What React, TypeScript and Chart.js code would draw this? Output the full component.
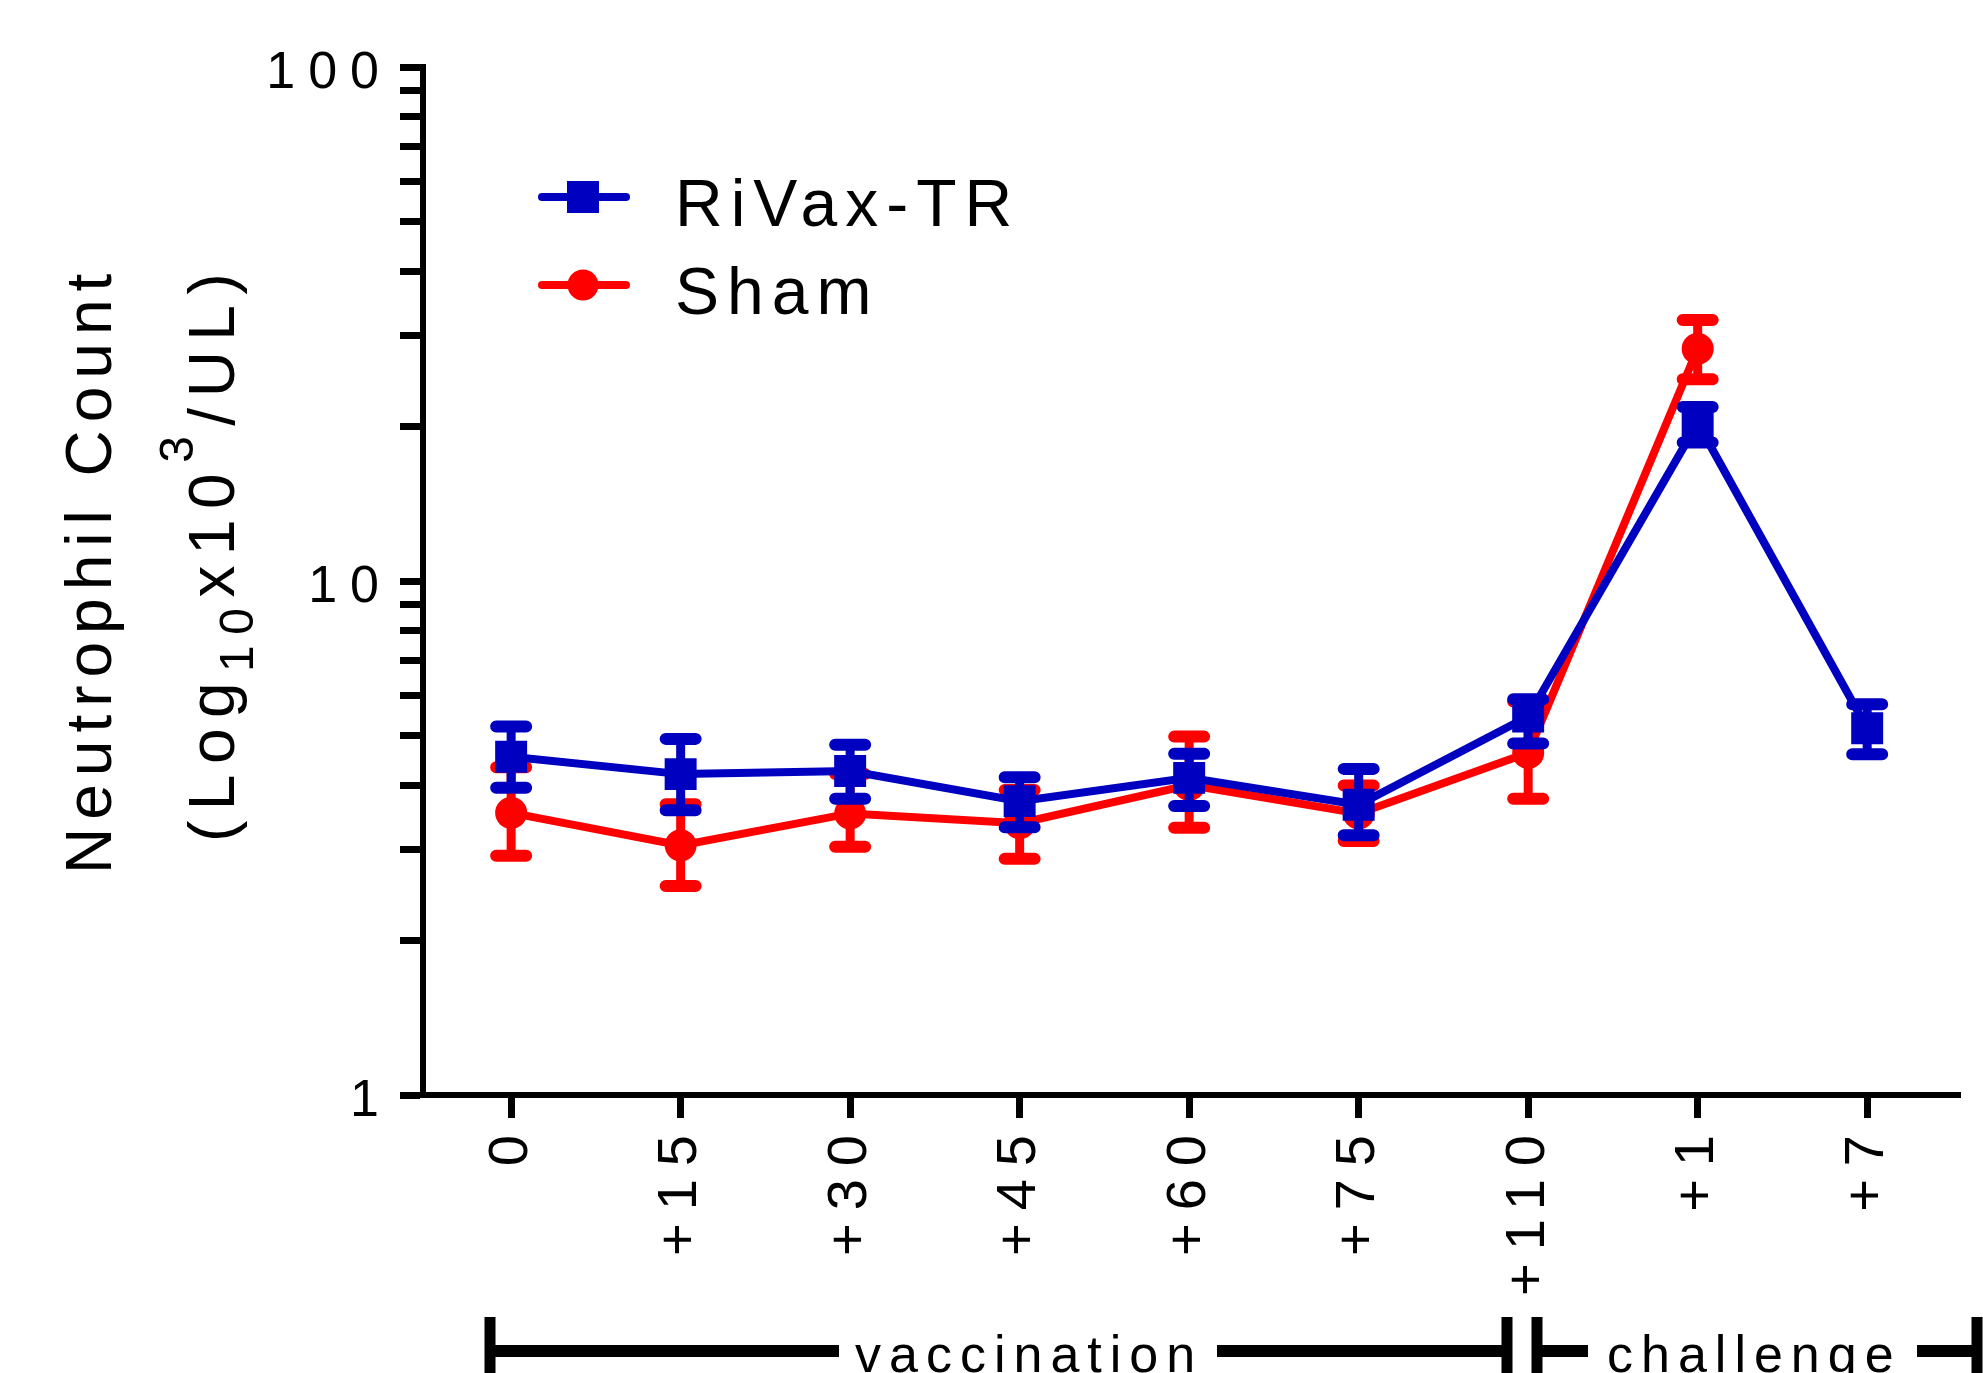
import React, { useEffect, useRef } from 'react';
import { Chart, registerables } from 'chart.js';

Chart.register(...registerables);

// ---------------- data ----------------
const timepoints = ['0', '+15', '+30', '+45', '+60', '+75', '+110', '+1', '+7'];

const seriesNames = ['RiVax-TR', 'Sham'];

const rivaxMean = [4.55, 4.21, 4.27, 3.73, 4.14, 3.67, 5.45, 20.3, 5.17];
const rivaxUpper = [5.21, 4.93, 4.8, 4.15, 4.61, 4.31, 5.89, 21.8, 5.76];
const rivaxLower = [3.96, 3.58, 3.77, 3.32, 3.65, 3.2, 4.83, 18.6, 4.6];

const shamMean = [3.54, 3.06, 3.53, 3.38, 4.01, 3.53, 4.63, 28.3, null];
const shamUpper = [4.34, 3.68, 4.21, 3.92, 4.98, 4.0, 5.83, 32.2, null];
const shamLower = [2.92, 2.55, 3.04, 2.88, 3.31, 3.12, 3.77, 24.7, null];

const yTickValues = [1, 2, 3, 4, 5, 6, 7, 8, 9, 10, 20, 30, 40, 50, 60, 70, 80, 90, 100];
const yTickLabels: Record<number, string> = { 1: '1', 10: '10', 100: '100' };

const phaseLabels = ['vaccination', 'challenge'];
const yTitleLine1 = 'Neutrophil Count';
const yTitleLine2 = [
  { t: '(Log', kind: 'normal' },
  { t: '10', kind: 'sub' },
  { t: 'x10', kind: 'normal' },
  { t: '3', kind: 'sup' },
  { t: '/UL)', kind: 'normal' },
];

// ---------------- styles ----------------
const FONT = '"Liberation Sans", Arial, Helvetica, sans-serif';
const BLUE = '#0000C0';
const RED = '#FF0000';
const seriesColors = [BLUE, RED];
const errorBars = [
  { upper: rivaxUpper, lower: rivaxLower },
  { upper: shamUpper, lower: shamLower },
];

const errorBarPlugin = {
  id: 'errorBars',
  beforeDatasetDraw(chart: any, args: any) {
    const eb = errorBars[args.index];
    if (!eb) return;
    const { ctx } = chart;
    const xs = chart.scales.x;
    const ys = chart.scales.y;
    const color = seriesColors[args.index];
    ctx.save();
    ctx.strokeStyle = color;
    eb.upper.forEach((u: number | null, i: number) => {
      const l = eb.lower[i];
      if (u == null || l == null) return;
      const px = xs.getPixelForValue(i);
      const pu = ys.getPixelForValue(u);
      const pl = ys.getPixelForValue(l);
      ctx.lineCap = 'butt';
      ctx.lineWidth = 9;
      ctx.beginPath();
      ctx.moveTo(px, pu);
      ctx.lineTo(px, pl);
      ctx.stroke();
      ctx.lineCap = 'round';
      ctx.lineWidth = 12;
      ctx.beginPath();
      ctx.moveTo(px - 15, pu);
      ctx.lineTo(px + 15, pu);
      ctx.moveTo(px - 15, pl);
      ctx.lineTo(px + 15, pl);
      ctx.stroke();
    });
    ctx.restore();
  },
};

const decorPlugin = {
  id: 'decor',
  beforeDraw(chart: any) {
    chart.ctx.letterSpacing = '13px';
  },
  afterDraw(chart: any) {
    const { ctx } = chart;
    ctx.save();
    ctx.fillStyle = '#000';
    ctx.strokeStyle = '#000';

    // ---- y axis title ----
    ctx.save();
    ctx.translate(111, 874);
    ctx.rotate(-Math.PI / 2);
    ctx.font = `64px ${FONT}`;
    ctx.letterSpacing = '8px';
    ctx.textAlign = 'left';
    ctx.textBaseline = 'alphabetic';
    ctx.fillText(yTitleLine1, 0, 0);
    ctx.restore();

    ctx.save();
    ctx.translate(234, 842);
    ctx.rotate(-Math.PI / 2);
    ctx.letterSpacing = '10.5px';
    ctx.textAlign = 'left';
    ctx.textBaseline = 'alphabetic';
    let cx = 0;
    yTitleLine2.forEach((p) => {
      const size = p.kind === 'normal' ? 64 : 48;
      const dy = p.kind === 'sub' ? 19 : p.kind === 'sup' ? -41 : 0;
      ctx.font = `${size}px ${FONT}`;
      ctx.fillText(p.t, cx, dy);
      cx += ctx.measureText(p.t).width;
    });
    ctx.restore();

    // ---- legend ----
    seriesNames.forEach((name, i) => {
      const yc = 197 + i * 88;
      const color = seriesColors[i];
      ctx.save();
      ctx.strokeStyle = color;
      ctx.fillStyle = color;
      ctx.lineWidth = 8;
      ctx.lineCap = 'round';
      ctx.beginPath();
      ctx.moveTo(542, yc);
      ctx.lineTo(626, yc);
      ctx.stroke();
      if (i === 0) {
        ctx.fillRect(583 - 16, yc - 16, 32, 32);
      } else {
        ctx.beginPath();
        ctx.arc(583, yc, 15.5, 0, Math.PI * 2);
        ctx.fill();
      }
      ctx.fillStyle = '#000';
      ctx.font = `66px ${FONT}`;
      ctx.letterSpacing = '8px';
      ctx.textAlign = 'left';
      ctx.textBaseline = 'alphabetic';
      ctx.fillText(name, 675, yc + 29);
      ctx.restore();
    });

    // ---- phase brackets ----
    const by = 1351;
    ctx.lineCap = 'butt';
    ctx.lineWidth = 12;
    const hline = (a: number, b: number) => {
      ctx.beginPath();
      ctx.moveTo(a, by);
      ctx.lineTo(b, by);
      ctx.stroke();
    };
    const vbar = (x: number) => {
      ctx.fillRect(x - 5.5, 1317, 11, 60);
    };
    vbar(490);
    hline(490, 839);
    hline(1217, 1507);
    vbar(1507);
    vbar(1537);
    hline(1537, 1588);
    hline(1917, 1978);
    vbar(1977);
    ctx.font = `52px ${FONT}`;
    ctx.letterSpacing = '8px';
    ctx.textAlign = 'left';
    ctx.textBaseline = 'alphabetic';
    ctx.fillText(phaseLabels[0], 855, 1372);
    ctx.fillText(phaseLabels[1], 1607, 1372);

    ctx.restore();
    ctx.letterSpacing = '0px';
  },
};

export default function App() {
  const ref = useRef<HTMLCanvasElement>(null);

  useEffect(() => {
    const canvas = ref.current;
    if (!canvas) return;
    const chart = new Chart(canvas, {
      type: 'line',
      data: {
        datasets: [
          {
            label: seriesNames[0],
            data: rivaxMean.map((v, i) => ({ x: i, y: v })),
            borderColor: BLUE,
            backgroundColor: BLUE,
            borderWidth: 8,
            pointStyle: 'rect',
            pointRadius: 22.6,
            pointBorderWidth: 0,
            pointBackgroundColor: BLUE,
            tension: 0,
          },
          {
            label: seriesNames[1],
            data: shamMean.map((v, i) => ({ x: i, y: v })),
            borderColor: RED,
            backgroundColor: RED,
            borderWidth: 8,
            pointStyle: 'circle',
            pointRadius: 16,
            pointBorderWidth: 0,
            pointBackgroundColor: RED,
            tension: 0,
          },
        ] as any,
      },
      options: {
        responsive: false,
        animation: false,
        devicePixelRatio: 1,
        layout: { padding: { left: 0, top: 67, right: 16, bottom: 0 } },
        plugins: {
          legend: { display: false },
          tooltip: { enabled: false },
          title: { display: false },
        },
        scales: {
          x: {
            type: 'linear',
            min: -0.52,
            max: 8.55,
            afterBuildTicks: (s: any) => {
              s.ticks = timepoints.map((_, i) => ({ value: i }));
            },
            afterFit: (s: any) => {
              s.height = 278;
              s.paddingLeft = 0;
              s.paddingRight = 0;
            },
            ticks: {
              autoSkip: false,
              minRotation: 90,
              maxRotation: 90,
              padding: 4,
              color: '#000',
              font: { family: FONT, size: 56 },
              callback: (v: any) => timepoints[v] ?? '',
            },
            grid: {
              drawOnChartArea: false,
              drawTicks: true,
              tickLength: 23,
              tickWidth: 7,
              tickColor: '#000',
            },
            border: { display: true, color: '#000', width: 6 },
          },
          y: {
            type: 'logarithmic',
            min: 1,
            max: 100,
            afterBuildTicks: (s: any) => {
              s.ticks = yTickValues.map((v) => ({ value: v }));
            },
            afterFit: (s: any) => {
              s.width = 423;
              s.paddingTop = 0;
              s.paddingBottom = 0;
            },
            ticks: {
              autoSkip: false,
              padding: 8,
              labelOffset: 7,
              color: '#000',
              font: { family: FONT, size: 52 },
              callback: (v: any) => yTickLabels[v] ?? '',
            },
            grid: {
              drawOnChartArea: false,
              drawTicks: true,
              tickLength: 23,
              tickWidth: 7,
              tickColor: '#000',
            },
            border: { display: true, color: '#000', width: 6 },
          },
        },
      } as any,
      plugins: [errorBarPlugin, decorPlugin],
    });
    return () => chart.destroy();
  }, []);

  return (
    <div style={{ position: 'fixed', left: 0, top: 0, width: 1983, height: 1373, background: '#fff', overflow: 'hidden' }}>
      <canvas ref={ref} width={1983} height={1373} style={{ display: 'block', width: 1983, height: 1373 }} />
    </div>
  );
}
